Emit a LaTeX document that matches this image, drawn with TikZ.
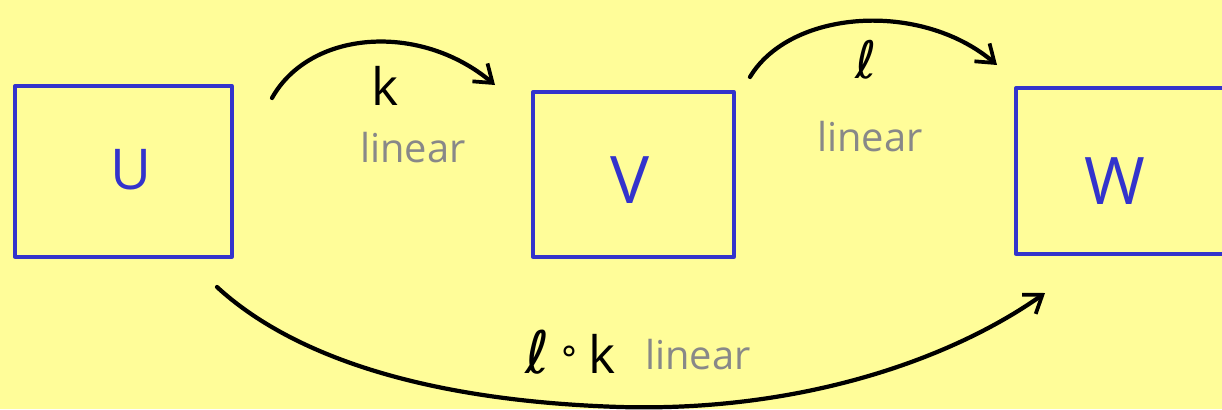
\documentclass[tikz,border=0pt]{standalone}
\usepackage{fontspec}
\setmainfont{Open Sans}
\newfontfamily\symfont{DejaVu Sans}
\usetikzlibrary{arrows.meta}
\definecolor{bgyellow}{RGB}{255,253,153}
\definecolor{boxblue}{RGB}{51,51,204}
\definecolor{labelgray}{RGB}{136,136,136}
\begin{document}
\begin{tikzpicture}[x=0.03cm,y=-0.03cm,
  setbox/.style={draw=boxblue,line width=2.8pt,line join=round,inner sep=0pt},
  setname/.style={text=boxblue,inner sep=0pt},
  maparrow/.style={line width=3.6pt,line cap=round,-{Straight Barb[length=14pt,width=20pt,line width=3.2pt]}},
  maplabel/.style={font=\fontsize{44}{48}\selectfont,inner sep=0pt},
  linlabel/.style={text=labelgray,font=\fontsize{34}{38}\selectfont,inner sep=0pt}]
\useasboundingbox (0,0) rectangle (1222,409);
\fill[bgyellow] (0,0) rectangle (1222,409);
\begin{scope}
\clip (0,0) rectangle (1222,409);
\node[setbox,minimum width=217*0.03cm,minimum height=171*0.03cm] (U) at (123.5,171.5) {};
\node[setbox,minimum width=201*0.03cm,minimum height=165*0.03cm] (V) at (633.5,174.5) {};
\node[setbox,minimum width=220*0.03cm,minimum height=166*0.03cm] (W) at (1126,171) {};
\end{scope}
\node[setname,font=\fontsize{48}{52}\selectfont] (Ulabel) at (131,170) {U};
\node[setname,font=\fontsize{56}{60}\selectfont] (Vlabel) at (630,180) {V};
\node[setname,font=\fontsize{56}{60}\selectfont] (Wlabel) at (1115,181) {W};
\coordinate (k0) at (272,98);
\coordinate (k1) at (495,85);
\coordinate (l0) at (750,77);
\coordinate (l1) at (997,65);
\coordinate (c0) at (217,287);
\coordinate (cm) at (620,407);
\coordinate (c1) at (1045,293);
\draw[maparrow] (k0) .. controls (310,30) and (420,22) .. (k1);
\draw[maparrow] (l0) .. controls (790,10) and (920,0) .. (l1);
\draw[maparrow] (c0) .. controls (280,345) and (400,400) .. (cm) .. controls (800,412) and (950,360) .. (c1);
\node[maplabel] (klab) at (385,86) {k};
\node[linlabel] (klin) at (413,148) {linear};
\node[maplabel] (llab) at (866,60) {\symfont ℓ};
\node[linlabel] (llin) at (870,137) {linear};
\node[maplabel,anchor=west] (clab) at (525,352) {{\fontsize{50}{50}\selectfont\symfont ℓ}\,\raisebox{9pt}{\fontsize{30}{30}\selectfont\symfont ∘}\,k};
\node[linlabel,anchor=west] (clin) at (645,355) {linear};
\end{tikzpicture}
\end{document}
